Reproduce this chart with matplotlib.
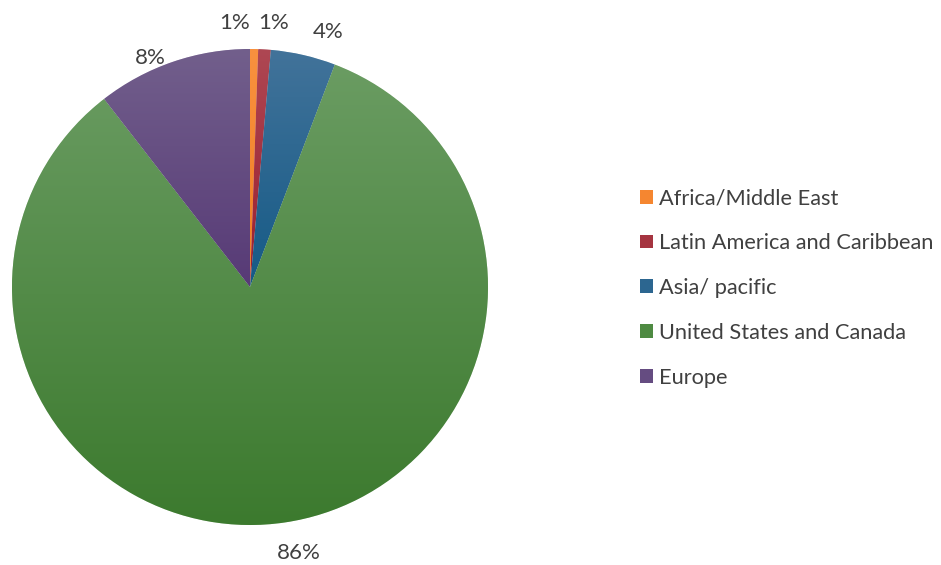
import numpy as np
import matplotlib.pyplot as plt
from matplotlib.colors import LinearSegmentedColormap
from matplotlib.patches import Patch

regions = ["Africa/Middle East", "Latin America and Caribbean", "Asia/ pacific",
           "United States and Canada", "Europe"]
shares = [0.55, 0.85, 4.4, 83.7, 10.5]
pct_labels = ["1%", "1%", "4%", "86%", "8%"]

# gradient colours (top, bottom) for each slice
top_colors = ["#F8913F", "#AE4753", "#42739A", "#6A9C62", "#725F8C"]
bot_colors = ["#F07E22", "#9A1E2E", "#155A86", "#3C7A2E", "#573A76"]
mid_colors = ["#F58630", "#A53440", "#2C6690", "#4E8A42", "#654C81"]

# label nudges (in radius units), to keep small labels apart
nudge_x = [-0.085, 0.03, 0.08, 0.04, -0.06]
nudge_y = [0.0, 0.0, -0.01, -0.02, -0.09]

plt.rcParams['font.family'] = ['Lato', 'DejaVu Sans']
text_col = "#404040"

fig = plt.figure(figsize=(9.41, 5.65), dpi=100)
W, H = 941, 565
cx, cy, r = 250, 278, 238
ax = fig.add_axes([(cx - r) / W, (cy - r) / H, 2 * r / W, 2 * r / H])
ax.set_xlim(-1, 1)
ax.set_ylim(-1, 1)
ax.axis("off")

wedges, _ = ax.pie(shares, colors=mid_colors, startangle=90, counterclock=False,
                   radius=1, wedgeprops=dict(edgecolor="white", linewidth=0.4))

for w, c1, c2 in zip(wedges, top_colors, bot_colors):
    ext = w.get_path().get_extents()
    cmap = LinearSegmentedColormap.from_list("g", [c1, c2])
    grad = np.linspace(0, 1, 256).reshape(-1, 1)
    im = ax.imshow(grad, cmap=cmap, aspect="auto", origin="upper",
                   extent=[ext.x0, ext.x1, ext.y0, ext.y1], zorder=1.5)
    im.set_clip_path(w)

ax.set_xlim(-1, 1)
ax.set_ylim(-1, 1)

# percentage labels outside each slice
for w, lab, dx, dy in zip(wedges, pct_labels, nudge_x, nudge_y):
    ang = np.deg2rad((w.theta1 + w.theta2) / 2)
    x = 1.11 * np.cos(ang) + dx
    y = 1.11 * np.sin(ang) + dy
    ax.text(x, y, lab, ha="center", va="center", fontsize=16, color=text_col,
            clip_on=False)

handles = [Patch(facecolor=c, edgecolor="none") for c in mid_colors]
fig.legend(handles, regions, loc="center left", bbox_to_anchor=(640 / W, 1 - 288 / H),
           frameon=False, fontsize=15.7, labelcolor=text_col, handlelength=0.6,
           handleheight=0.6, handletextpad=0.25, labelspacing=1.14, borderpad=0,
           borderaxespad=0)

fig.savefig("out.png", dpi=100)
